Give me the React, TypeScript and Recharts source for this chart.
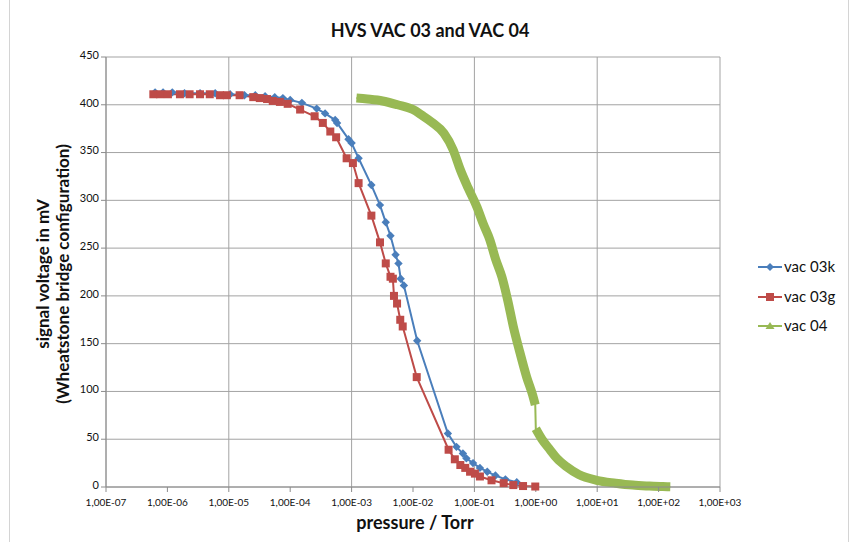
import { LineChart, Line, XAxis, YAxis, CartesianGrid } from "recharts";

// pressure (Torr) / signal voltage (mV)
const vac03kP = [6.3e-7, 8.5e-7, 1.2e-6, 1.9e-6, 3.4e-6, 6.0e-6, 1.05e-5, 1.8e-5, 2.7e-5, 3.9e-5, 5.6e-5, 7.6e-5, 1.0e-4, 1.55e-4, 2.7e-4, 3.7e-4, 5.4e-4, 5.8e-4, 8.9e-4, 1.0e-3, 1.3e-3, 2.1e-3, 2.9e-3, 3.6e-3, 4.3e-3, 5.2e-3, 5.8e-3, 6.3e-3, 7.1e-3, 1.17e-2, 3.7e-2, 5.1e-2, 6.5e-2, 7.4e-2, 9.5e-2, 0.123, 0.162, 0.22, 0.32, 0.49];
const vac03kV = [413, 413, 413, 412, 412, 412, 411, 410, 410, 409, 408, 407, 405, 402, 396, 391, 384, 381, 364, 360, 344, 316, 295, 277, 263, 243, 234, 218, 211, 153, 56, 42, 35, 30, 25, 20, 16, 12, 8, 5];

const vac03gP = [5.9e-7, 7.6e-7, 1.02e-6, 1.6e-6, 2.3e-6, 3.4e-6, 4.9e-6, 7.2e-6, 9.3e-6, 1.5e-5, 2.5e-5, 3.2e-5, 4.2e-5, 5.2e-5, 6.8e-5, 9.1e-5, 1.45e-4, 2.5e-4, 3.4e-4, 4.5e-4, 5.6e-4, 8.3e-4, 1.05e-3, 1.3e-3, 2.1e-3, 2.9e-3, 3.6e-3, 4.3e-3, 4.7e-3, 4.9e-3, 5.5e-3, 6.2e-3, 6.8e-3, 1.15e-2, 3.8e-2, 4.8e-2, 5.9e-2, 7.1e-2, 8.5e-2, 0.102, 0.123, 0.19, 0.3, 0.43, 0.62, 0.98];
const vac03gV = [411, 411, 411, 411, 411, 411, 411, 410, 410, 410, 408, 407, 406, 404, 403, 401, 395, 388, 381, 372, 366, 344, 339, 318, 284, 256, 234, 220, 218, 200, 192, 175, 168, 115, 39, 29, 23, 20, 16, 14, 11, 7, 4, 2, 1, 0.5];

const vac04P = [1.2e-3, 1.8e-3, 3.2e-3, 5.6e-3, 1.0e-2, 1.4e-2, 2.0e-2, 3.2e-2, 4.5e-2, 5.9e-2, 7.9e-2, 0.11, 0.14, 0.18, 0.22, 0.28, 0.35, 0.43, 0.55, 0.71, 0.89, 0.98, 1.0, 1.26, 1.7, 2.2, 3.2, 5.0, 9.8, 20, 38, 71, 117, 155];
const vac04V = [407, 406, 404, 400, 395, 389, 382, 370, 353, 332, 313, 293, 275, 258, 239, 220, 195, 168, 141, 115, 96, 86, 61, 50, 39, 30, 21, 13, 7, 4, 2, 1, 0.4, 0.2];
// the vac 04 trace jumps at 1 Torr (index of first point after the jump)
const vac04Break = 22;

const xTicks = [1e-7, 1e-6, 1e-5, 1e-4, 1e-3, 1e-2, 1e-1, 1e0, 1e1, 1e2, 1e3];
const yTicks = [0, 50, 100, 150, 200, 250, 300, 350, 400, 450];

const BLUE = "#4a7ebb";
const RED = "#be4b48";
const GREEN = "#98b954";
const FONT = "Lato, 'Open Sans', sans-serif";

const toRows = (p: number[], v: number[]) => p.map((x, i) => ({ p: x, v: v[i] }));
const rows03k = toRows(vac03kP, vac03kV);
const rows03g = toRows(vac03gP, vac03gV);
const rows04 = toRows(vac04P, vac04V);

const sci = (v: number) => {
  const e = Math.round(Math.log10(v));
  const s = e < 0 ? "-" : "+";
  return `1,00E${s}${String(Math.abs(e)).padStart(2, "0")}`;
};

const Diamond = (props: any) => {
  const { cx, cy, index } = props;
  if (cx == null || cy == null) return <g key={`d${index}`} />;
  return <path key={`d${index}`} d={`M${cx},${cy - 4.2}L${cx + 4.2},${cy}L${cx},${cy + 4.2}L${cx - 4.2},${cy}Z`} fill={BLUE} />;
};

const Square = (props: any) => {
  const { cx, cy, index } = props;
  if (cx == null || cy == null) return <g key={`s${index}`} />;
  return <rect key={`s${index}`} x={cx - 4} y={cy - 4} width={8} height={8} fill={RED} />;
};

export default function App() {
  const legend = [
    { name: "vac 03k", color: BLUE, y: 267, mark: "diamond" },
    { name: "vac 03g", color: RED, y: 297, mark: "square" },
    { name: "vac 04", color: GREEN, y: 326, mark: "tri" },
  ];

  return (
    <div style={{ position: "absolute", left: 0, top: 0, width: 851, height: 542, background: "#fff" }}>
      <LineChart width={851} height={542} margin={{ top: 57, right: 131, bottom: 25, left: 62 }}>
        <CartesianGrid stroke="#a3a3a3" strokeWidth={1} />
        <XAxis
          dataKey="p"
          type="number"
          scale="log"
          domain={[1e-7, 1e3]}
          ticks={xTicks}
          allowDataOverflow
          tickFormatter={sci}
          stroke="#8c8c8c"
          tickSize={5}
          height={30}
          tick={{ fill: "#111", fontSize: 10, fontFamily: FONT, dy: 5 }}
        />
        <YAxis
          dataKey="v"
          type="number"
          domain={[0, 450]}
          ticks={yTicks}
          stroke="#8c8c8c"
          tickSize={5}
          width={44}
          tick={{ fill: "#111", fontSize: 11, fontFamily: FONT, dy: -2 }}
        />
        <Line data={rows03k} dataKey="v" stroke={BLUE} strokeWidth={2} dot={Diamond} isAnimationActive={false} />
        <Line data={rows03g} dataKey="v" stroke={RED} strokeWidth={2} dot={Square} isAnimationActive={false} />
        <Line data={rows04} dataKey="v" stroke={GREEN} strokeWidth={2} dot={false} isAnimationActive={false} />
        <Line data={rows04.slice(0, vac04Break)} type="monotone" dataKey="v" stroke={GREEN} strokeWidth={9} strokeLinecap="butt" dot={false} isAnimationActive={false} />
        <Line data={rows04.slice(vac04Break)} type="monotone" dataKey="v" stroke={GREEN} strokeWidth={9} strokeLinecap="butt" dot={false} isAnimationActive={false} />
      </LineChart>

      <svg width={851} height={542} style={{ position: "absolute", left: 0, top: 0, pointerEvents: "none" }}>
        <rect x={9.5} y={-2} width={839} height={546} fill="none" stroke="#d4d4d4" />
        <text x={430} y={37} textAnchor="middle" fontFamily={FONT} fontWeight="bold" fontSize={18} fill="#111">
          HVS VAC 03 and VAC 04
        </text>
        <text x={415} y={529} textAnchor="middle" fontFamily={FONT} fontWeight="bold" fontSize={18} fill="#111">
          pressure / Torr
        </text>
        <g transform="translate(43,274) rotate(-90)">
          <text x={0} y={6} textAnchor="middle" fontFamily={FONT} fontWeight="bold" fontSize={17} fill="#111">
            signal voltage in mV
          </text>
          <text x={0} y={26} textAnchor="middle" fontFamily={FONT} fontWeight="bold" fontSize={17} fill="#111">
            (Wheatstone bridge configuration)
          </text>
        </g>
        {legend.map((l) => (
          <g key={l.name}>
            <line x1={758} x2={782} y1={l.y} y2={l.y} stroke={l.color} strokeWidth={2} />
            {l.mark === "diamond" && (
              <path d={`M770,${l.y - 4}L774,${l.y}L770,${l.y + 4}L766,${l.y}Z`} fill={l.color} />
            )}
            {l.mark === "square" && <rect x={766} y={l.y - 4} width={8} height={8} fill={l.color} />}
            {l.mark === "tri" && <path d={`M770,${l.y - 4}L774.5,${l.y + 3}L765.5,${l.y + 3}Z`} fill={l.color} />}
            <text x={784} y={l.y + 5} fontFamily={FONT} fontSize={15} fill="#111">
              {l.name}
            </text>
          </g>
        ))}
      </svg>
    </div>
  );
}
